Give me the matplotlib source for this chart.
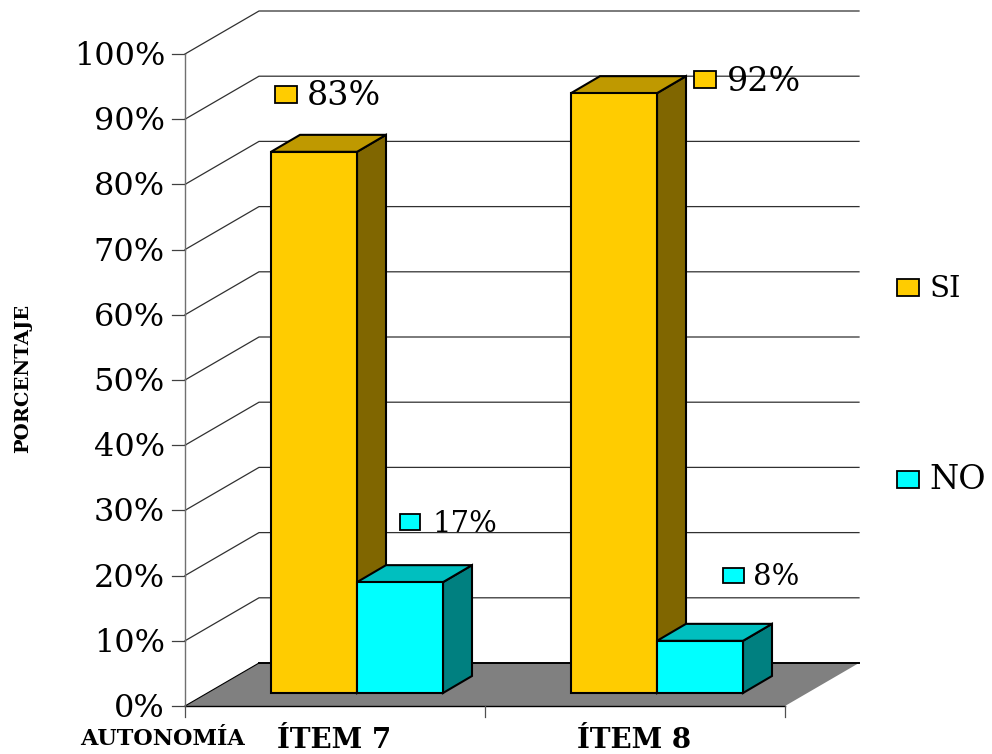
import matplotlib
matplotlib.use("Agg")
import matplotlib.pyplot as plt
from matplotlib.patches import Polygon, Rectangle

categories = ["ÍTEM 7", "ÍTEM 8"]
si_values = [83, 92]
no_values = [17, 8]
y_ticks = [0, 10, 20, 30, 40, 50, 60, 70, 80, 90, 100]

W, H = 992, 754
PX_X = 300.0   # pixels per category
PX_Y = 6.52    # pixels per percent
X0, Y0 = 185, 706

plt.rcParams["font.family"] = ["DejaVu Serif"]

fig = plt.figure(figsize=(W / 100, H / 100), dpi=100)
ax = fig.add_axes([0, 0, 1, 1])
ax.set_xlim(-X0 / PX_X, (W - X0) / PX_X)
ax.set_ylim(-(H - Y0) / PX_Y, Y0 / PX_Y)
ax.axis("off")

# oblique offsets of the fake 3D view, in data units
wall_dx, wall_dy = 74 / PX_X, 43 / PX_Y
base_dx, base_dy = 22.4 / PX_X, 13 / PX_Y
bar_dx, bar_dy = 29 / PX_X, 17 / PX_Y
bar_w = 86 / PX_X
bar_start = 0.212


def pt(px, py):
    # figure pixels (origin top left) to axes fraction
    return px / W, 1 - py / H


# floor
ax.add_patch(Polygon([(0, 0), (2, 0), (2 + wall_dx, wall_dy), (wall_dx, wall_dy)],
                     facecolor="#808080", edgecolor="none", zorder=1))
ax.plot([0, 2], [0, 0], color="black", lw=1.0, zorder=2)
ax.plot([wall_dx, 2 + wall_dx], [wall_dy, wall_dy], color="black", lw=1.4, zorder=2)
ax.plot([0, wall_dx], [0, wall_dy], color="black", lw=0.8, zorder=2)

# walls and value axis
for t in y_ticks:
    if t > 0:
        ax.plot([0, wall_dx, 2 + wall_dx], [t, t + wall_dy, t + wall_dy],
                color="#303030", lw=0.9, zorder=1)
    ax.plot([-13 / PX_X, 0], [t, t], color="#404040", lw=0.9, zorder=2)
    ax.text(-20 / PX_X, t - 2.5 / PX_Y, f"{t}%", ha="right", va="center", fontsize=23, color="black")
ax.plot([0, 0], [0, 100], color="#707070", lw=1.0, zorder=2)

# category axis
for i in range(len(categories) + 1):
    ax.plot([i, i], [0, -11 / PX_Y], color="#505050", lw=0.9, zorder=2)


def bar3d(x, value, front, top, side):
    x0 = x + base_dx
    y0 = base_dy
    x1 = x0 + bar_w
    y1 = y0 + value
    style = dict(edgecolor="black", lw=1.5, joinstyle="miter", zorder=3)
    ax.add_patch(Polygon([(x1, y0), (x1 + bar_dx, y0 + bar_dy), (x1 + bar_dx, y1 + bar_dy), (x1, y1)],
                         facecolor=side, **style))
    ax.add_patch(Polygon([(x0, y1), (x1, y1), (x1 + bar_dx, y1 + bar_dy), (x0 + bar_dx, y1 + bar_dy)],
                         facecolor=top, **style))
    ax.add_patch(Rectangle((x0, y0), bar_w, value, facecolor=front, **style))


for i in range(len(categories)):
    bar3d(i + bar_start, si_values[i], "#ffcc00", "#bf9900", "#806600")
    bar3d(i + bar_start + bar_w, no_values[i], "#00ffff", "#00bfbf", "#008080")
    ax.text(i + 0.496, -34 / PX_Y, categories[i], ha="center", va="center",
            fontsize=20, fontweight="bold", color="black")


def swatch(px, py, w, h, color):
    x, y = pt(px, py + h)
    ax.add_patch(Rectangle((x, y), w / W, h / H, transform=ax.transAxes,
                           facecolor=color, edgecolor="black", lw=1.3, zorder=5))


# value labels
label_spots = [(275, 86, 22, 17, 307, 96, 24), (694, 71, 22, 17, 727, 82, 24),
               (400, 514, 20, 16, 432, 524, 21), (723, 568, 21, 15, 753, 577, 21)]
label_values = [si_values[0], si_values[1], no_values[0], no_values[1]]
label_colors = ["#ffcc00", "#ffcc00", "#00ffff", "#00ffff"]
for spot, v, c in zip(label_spots, label_values, label_colors):
    swatch(spot[0], spot[1], spot[2], spot[3], c)
    tx, ty = pt(spot[4], spot[5])
    ax.text(tx, ty, f"{v}%", transform=ax.transAxes, ha="left", va="center",
            fontsize=spot[6], color="black", zorder=5)

# legend
swatch(897, 279, 22, 17, "#ffcc00")
tx, ty = pt(929, 289)
ax.text(tx, ty, "SI", transform=ax.transAxes, ha="left", va="center", fontsize=21, color="black")
swatch(897, 471, 22, 17, "#00ffff")
tx, ty = pt(929, 480)
ax.text(tx, ty, "NO", transform=ax.transAxes, ha="left", va="center", fontsize=24, color="black")

# axis captions
tx, ty = pt(163, 739)
ax.text(tx, ty, "AUTONOMÍA", transform=ax.transAxes, ha="center", va="center",
        fontsize=16, fontweight="bold", color="black")
tx, ty = pt(23, 378)
ax.text(tx, ty, "PORCENTAJE", transform=ax.transAxes, rotation=90, ha="center", va="center",
        fontsize=14, fontweight="bold", color="black")

plt.savefig("out.png", dpi=100)
